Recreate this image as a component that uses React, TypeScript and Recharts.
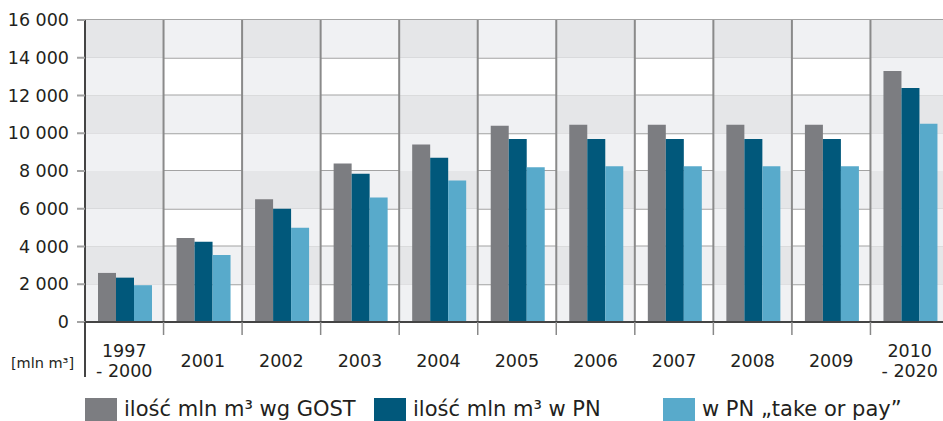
import { BarChart, Bar, XAxis, YAxis, CartesianGrid, ReferenceArea, ReferenceLine, Legend } from "recharts"

const categories = ["1997 - 2000", "2001", "2002", "2003", "2004", "2005", "2006", "2007", "2008", "2009", "2010 - 2020"]
const gostVolume = [2600, 4450, 6500, 8400, 9400, 10400, 10450, 10450, 10450, 10450, 13300]
const pnVolume = [2350, 4250, 6000, 7850, 8700, 9700, 9700, 9700, 9700, 9700, 12400]
const takeOrPayVolume = [1950, 3550, 5000, 6600, 7500, 8200, 8250, 8250, 8250, 8250, 10500]
const seriesNames = ["ilość mln m³ wg GOST", "ilość mln m³ w PN", "w PN „take or pay”"]
const yTicks = [0, 2000, 4000, 6000, 8000, 10000, 12000, 14000, 16000]
const unitLabel = "[mln m³]"

const FONT = "'DejaVu Sans', Verdana, sans-serif"
const TEXT = "#231f20"
const GRID = "#a3a3a3"

const data = categories.map((name, i) => ({
  name,
  gost: gostVolume[i],
  pn: pnVolume[i],
  top: takeOrPayVolume[i],
}))

// checkerboard background: every other column and every other row gets a shade
const cells = categories.flatMap((cat, i) =>
  yTicks.slice(0, -1).map((lo, j) => {
    const level = (i % 2 === 0 ? 1 : 0) + (j % 2 === 1 ? 1 : 0)
    return { cat, lo, hi: yTicks[j + 1], level }
  })
).filter((c) => c.level > 0)

const thousands = (v: number) => String(v).replace(/\B(?=(\d{3})+(?!\d))/g, " ")

function CategoryTick(props: any) {
  const { x, y, payload, index } = props
  const half = payload.offset ?? 0
  const lines = String(payload.value).split(" - ")
  return (
    <g>
      {index === 0 && (
        <line x1={x - half} x2={x - half} y1={y} y2={y + 55} stroke="#444" strokeWidth={2} />
      )}
      <line x1={x + half} x2={x + half} y1={y} y2={y + 13} stroke="#888" strokeWidth={1.5} />
      <text textAnchor="middle" fontSize={17.5} fill={TEXT} fontFamily={FONT}>
        {lines.length > 1 ? (
          lines.map((t, k) => (
            <tspan key={k} x={x} y={y + 35 + k * 19.5}>
              {k ? "- " + t : t}
            </tspan>
          ))
        ) : (
          <tspan x={x} y={y + 45}>
            {lines[0]}
          </tspan>
        )}
      </text>
    </g>
  )
}

function LegendContent({ payload }: any) {
  // keep the series order, not the alphabetical one
  const items = [...(payload ?? [])].sort(
    (a: any, b: any) => seriesNames.indexOf(a.value) - seriesNames.indexOf(b.value)
  )
  return (
    <div style={{ display: "flex", height: 23, fontFamily: FONT, fontSize: 21, color: TEXT }}>
      {items.map((e: any, i: number) => (
        <div key={i} style={{ width: 289, display: "flex", alignItems: "flex-start", flex: "none" }}>
          <span style={{ width: 32, height: 23, background: e.color, marginRight: 7, flex: "none" }} />
          <span style={{ lineHeight: "23px", whiteSpace: "nowrap" }}>{e.value}</span>
        </div>
      ))}
    </div>
  )
}

export default function App() {
  return (
    <div style={{ position: "absolute", left: 0, top: 0, width: 943, height: 421, overflow: "hidden", background: "#fff" }}>
      <BarChart
        width={960}
        height={421}
        data={data}
        margin={{ top: 20, right: 11, left: 0, bottom: 0 }}
        barCategoryGap={13}
        barGap={0}
      >
        {cells.map((c, k) => (
          <ReferenceArea
            key={k}
            x1={c.cat}
            x2={c.cat}
            y1={c.lo}
            y2={c.hi}
            fill={c.level === 2 ? "#e5e6e8" : "#f0f1f3"}
            fillOpacity={1}
            stroke="none"
          />
        ))}
        <CartesianGrid vertical={false} stroke={GRID} strokeWidth={2} />
        {categories.slice(1).map((cat) => (
          <ReferenceLine key={cat} x={cat} position="start" stroke="#8a8a8a" strokeWidth={2} />
        ))}
        <XAxis
          dataKey="name"
          interval={0}
          tickLine={false}
          tickSize={0}
          tickMargin={0}
          height={76}
          axisLine={{ stroke: "#444", strokeWidth: 2 }}
          tick={<CategoryTick />}
        />
        <YAxis
          width={85}
          domain={[0, 16000]}
          ticks={yTicks}
          interval={0}
          tickSize={8}
          tickMargin={8}
          tickFormatter={thousands}
          axisLine={{ stroke: "#444", strokeWidth: 2 }}
          tickLine={{ stroke: GRID, strokeWidth: 2 }}
          tick={{ fill: TEXT, fontSize: 17.5, fontFamily: FONT }}
          label={{
            content: (p: any) => (
              <text
                x={p.viewBox.x + p.viewBox.width / 2}
                y={p.viewBox.y + p.viewBox.height + 46}
                textAnchor="middle"
                fontSize={14.5}
                fill={TEXT}
                fontFamily={FONT}
              >
                {unitLabel}
              </text>
            ),
          }}
        />
        <Legend
          verticalAlign="bottom"
          align="left"
          height={23}
          wrapperStyle={{ left: 85, bottom: 0, width: 880 }}
          content={<LegendContent />}
        />
        <Bar dataKey="gost" name={seriesNames[0]} fill="#7c7d81" isAnimationActive={false} />
        <Bar dataKey="pn" name={seriesNames[1]} fill="#01587b" isAnimationActive={false} />
        <Bar dataKey="top" name={seriesNames[2]} fill="#58aacb" isAnimationActive={false} />
      </BarChart>
    </div>
  )
}
